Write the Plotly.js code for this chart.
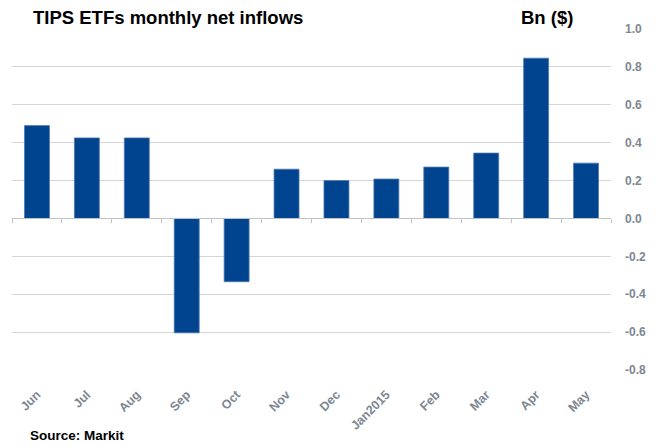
<!DOCTYPE html>
<html>
<head>
<meta charset="utf-8">
<script src="https://cdn.plot.ly/plotly-3.0.1.min.js"></script>
<style>html,body{margin:0;padding:0;background:#fff}#chart{width:666px;height:445px}</style>
</head>
<body>
<div id="chart"></div>
<script>
const months = ["Jun","Jul","Aug","Sep","Oct","Nov","Dec","Jan2015","Feb","Mar","Apr","May"];
const inflows = [0.49, 0.425, 0.425, -0.604, -0.334, 0.26, 0.20, 0.208, 0.271, 0.345, 0.846, 0.292];
const yTickValues = [1.0, 0.8, 0.6, 0.4, 0.2, 0.0, -0.2, -0.4, -0.6, -0.8];
const yTickLabels = ["1.0","0.8","0.6","0.4","0.2","0.0","-0.2","-0.4","-0.6","-0.8"];

const yMin = -0.8, yMax = 1.0;
const gray = '#7d8792';
const fontFam = 'Liberation Sans, Arial, sans-serif';

const data = [
  {
    type: 'bar', x: months, y: inflows,
    marker: {color: '#00448f', line: {color: '#4f79ad', width: 0.8}},
    hoverinfo: 'x+y', showlegend: false
  },
  {
    type: 'scatter', mode: 'markers', x: months, y: months.map(() => null),
    xaxis: 'x2', yaxis: 'y', showlegend: false, hoverinfo: 'skip'
  }
];

const layout = {
  width: 666, height: 445,
  margin: {l: 11.5, r: 55, t: 28.5, b: 75.4, pad: 0},
  paper_bgcolor: '#fff', plot_bgcolor: '#fff',
  bargap: 0.5,
  showlegend: false,
  xaxis: {
    type: 'category', range: [-0.5, 11.5],
    showgrid: false, zeroline: false, showline: false,
    ticks: '', tickangle: -45,
    ticklabelstandoff: 14,
    tickfont: {family: fontFam, size: 12.5, color: gray, weight: 'bold'}
  },
  xaxis2: {
    type: 'category', matches: 'x', overlaying: 'x', anchor: 'free',
    position: (0 - yMin) / (yMax - yMin),
    showgrid: false, zeroline: false,
    showline: true, linecolor: '#bfc3c7', linewidth: 1,
    ticks: 'outside', ticklen: 4, tickcolor: '#bfc3c7', tickwidth: 1,
    tickson: 'boundaries', showticklabels: false
  },
  yaxis: {
    side: 'right', range: [yMin, yMax],
    tickvals: yTickValues, ticktext: yTickLabels,
    showgrid: true, gridcolor: '#d3d6d9', gridwidth: 1,
    zeroline: false, showline: false, ticks: '',
    ticklabelstandoff: 13,
    tickfont: {family: fontFam, size: 12, color: gray, weight: 'bold'}
  },
  annotations: [
    {text: 'TIPS ETFs monthly net inflows', xref: 'paper', yref: 'paper', x: 0.032, y: 1.0, yshift: -1, xanchor: 'left', yanchor: 'bottom',
     showarrow: false, font: {family: fontFam, size: 18.5, color: '#000', weight: 'bold'}},
    {text: 'Bn ($)', xref: 'paper', yref: 'paper', x: 0.847, y: 1.0, yshift: -1, xanchor: 'left', yanchor: 'bottom',
     showarrow: false, font: {family: fontFam, size: 18.5, color: '#000', weight: 'bold'}},
    {text: 'Source: Markit', xref: 'paper', yref: 'paper', x: 0.026, y: -0.192, xanchor: 'left', yanchor: 'middle',
     showarrow: false, font: {family: fontFam, size: 13.5, color: '#000', weight: 'bold'}}
  ]
};

Plotly.newPlot('chart', data, layout, {displayModeBar: false, staticPlot: true});
</script>
</body>
</html>
